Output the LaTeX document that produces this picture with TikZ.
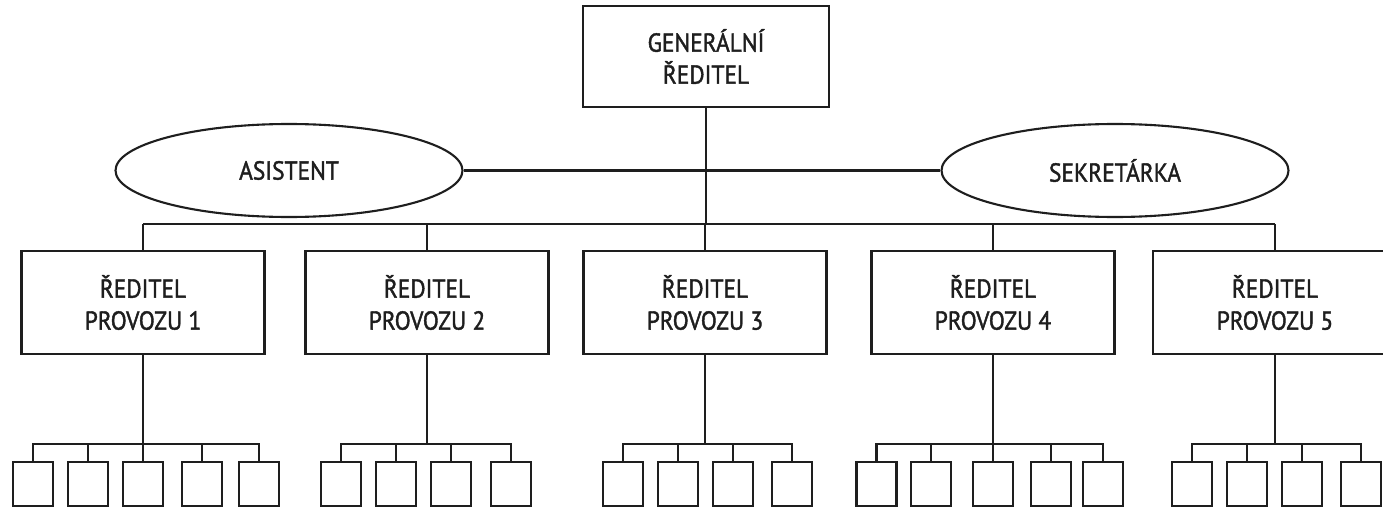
\documentclass[tikz,border=0pt]{standalone}
\usepackage{fontspec}
\setmainfont{PT Sans}[FakeStretch=0.9, FakeBold=1.5]
\usetikzlibrary{shapes.geometric}
\definecolor{ink}{HTML}{1E1E1E}
\begin{document}
\begin{tikzpicture}[x=1pt,y=-1pt,
  conn/.style={draw=ink, line width=2.1pt},
  txt/.style={font=\fontsize{26}{32}\selectfont, text=ink, align=center},
  bigbox/.style={txt, draw=ink, line width=2.1pt, minimum width=243pt, minimum height=103pt, inner sep=0pt},
  oval/.style={txt, ellipse, draw=ink, line width=2.1pt, minimum width=347pt, minimum height=93pt, inner sep=0pt},
  small/.style={draw=ink, line width=2.1pt, minimum width=40pt, minimum height=44pt, inner sep=0pt}
]
\useasboundingbox (0,0) rectangle (1383,508);
\fill[white] (0,0) rectangle (1383,508);

\node[bigbox, minimum width=246pt, minimum height=101pt] (gd) at (706,56.5) {GENERÁLNÍ\\ŘEDITEL};
\node[oval] (as) at (289,170.5) {ASISTENT};
\node[oval] (se) at (1115,170.5) {SEKRETÁRKA};

\coordinate (bus) at (143,224);

\node[bigbox] (p1) at (143,302.5) {ŘEDITEL\\PROVOZU 1};
\node[bigbox] (p2) at (427,302.5) {ŘEDITEL\\PROVOZU 2};
\node[bigbox] (p3) at (705,302.5) {ŘEDITEL\\PROVOZU 3};
\node[bigbox] (p4) at (993,302.5) {ŘEDITEL\\PROVOZU 4};
\node[bigbox, minimum width=244pt] (p5) at (1275,302.5) {ŘEDITEL\\PROVOZU 5};

\draw[conn] (as.east) -- (se.west);
\draw[conn] (gd.south) -- (gd.south |- bus);
\draw[conn] (p1.north |- bus) -- (p5.north |- bus);
\foreach \g in {1,...,5}{
  \draw[conn] (p\g.north) -- (p\g.north |- bus);
}

\foreach \g/\xs in {1/{33,88,143,202,259},2/{341,396,451,511},3/{623,678,733,792},4/{876.5,931,993,1051,1103},5/{1192,1247,1302,1361}}{
  \coordinate (b\g) at (p\g.south |- 0,444);
  \draw[conn] (p\g.south) -- (b\g);
  \foreach \x [count=\i] in \xs {
    \node[small] (s\g-\i) at (\x,484) {};
    \draw[conn] (b\g) -| (s\g-\i.north);
  }
}
\end{tikzpicture}
\end{document}
